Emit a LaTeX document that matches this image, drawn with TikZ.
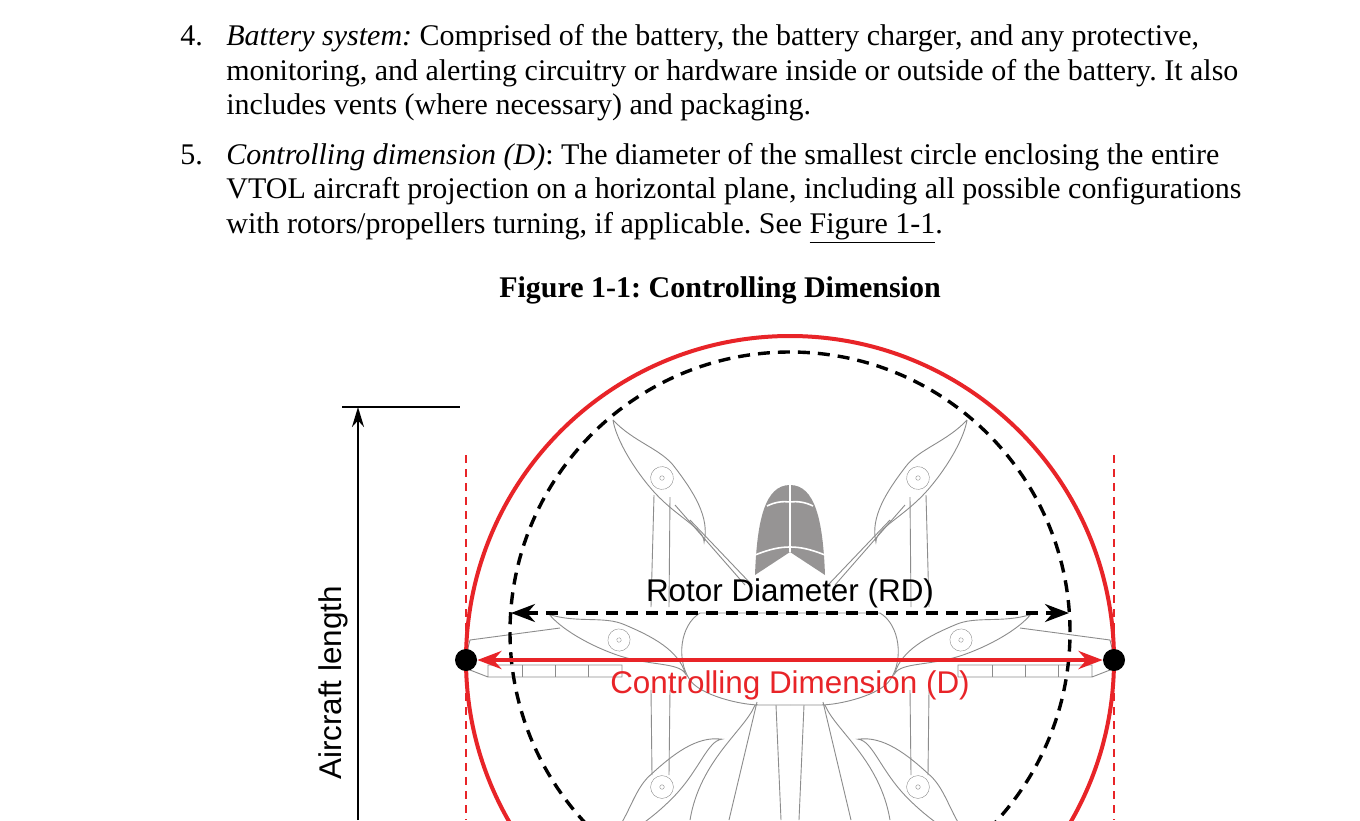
\documentclass[tikz,border=0pt]{standalone}
\usepackage{fontspec}
\setmainfont{Liberation Serif}
\setsansfont{Liberation Sans}
\usetikzlibrary{arrows.meta}
\definecolor{rd}{RGB}{232,36,40}
\definecolor{dg}{RGB}{150,148,148}
\definecolor{lg}{RGB}{140,140,140}
\newcommand\myblade[4]{% hub x, hub y, angle, half length (pt)
  \begin{scope}[shift={(#1,#2)},rotate=#3]
    \draw[drone] (-#4pt,0) .. controls (-0.6*#4pt,0.02*#4pt) and (-0.3*#4pt,0.24*#4pt) .. (0,0.22*#4pt)
      .. controls (0.4*#4pt,0.2*#4pt) and (0.8*#4pt,0.15*#4pt) .. (#4pt,-0.12*#4pt)
      .. controls (0.85*#4pt,0.0) and (0.5*#4pt,-0.2*#4pt) .. (0,-0.2*#4pt)
      .. controls (-0.4*#4pt,-0.2*#4pt) and (-0.8*#4pt,-0.12*#4pt) .. cycle;
    \draw[drone,line width=0.2pt] (0,0) circle[radius=0.15*#4pt];
    \draw[drone,line width=0.2pt] (0,0) circle[radius=0.03*#4pt];
  \end{scope}}
\newcommand\halfdrone{%
  \myblade{662}{478}{-49.8}{38}
  \myblade{619}{640}{-20.1}{37}
  \myblade{662}{787}{45.5}{38}
  \draw[drone] (654,495) -- (651,607) (670,497) -- (669,607);
  \draw[drone] (675,505) -- (745,585) (690,520) -- (752,585);
  \draw[drone] (651,690) -- (652,775) (670,690) -- (669,775);
  \draw[drone] (468,648) -- (470,640) -- (560,628) (470,670) -- (468,648);
  \draw[drone] (470,670) -- (488,677) -- (622,677) -- (622,665) -- (488,665) -- (488,677);
  \foreach \x in {522,555,588} \draw[drone,line width=0.2pt] (\x,665) -- (\x,677);
  \draw[drone] (790,613) -- (700,613) .. controls (680,625) and (676,660) .. (690,680)
     .. controls (700,695) and (740,705) .. (760,705) -- (790,705);
  \draw[drone] (757,702) -- (729,820) (755,705) .. controls (745,730) and (700,760) .. (690,820);
  \draw[drone] (776,705) -- (781,820);
  \fill[dg] (790,485) .. controls (765,485) and (757,520) .. (755,575) -- (790,552) -- cycle;
  \draw[white,line width=0.8pt] (790,485) -- (790,552);
  \draw[white,line width=0.8pt] (767,506) .. controls (775,502) and (783,501) .. (790,502);
  \draw[white,line width=0.8pt] (755,555) .. controls (770,549) and (780,547) .. (790,547);
}
\begin{document}
\frenchspacing
\begin{tikzpicture}[x=0.5pt,y=-0.5pt,
  drone/.style={draw=lg,line width=0.45pt},
  txt/.style={anchor=base west,inner sep=0pt,font=\fontsize{15}{17}\selectfont},
  lab/.style={inner sep=0pt,font=\sffamily\fontsize{15.7}{18}\selectfont},
  dot/.style={circle,fill=black,inner sep=0pt,minimum size=11pt}]
\useasboundingbox (0,0) rectangle (1360,820);
\fill[white] (0,0) rectangle (1360,820);
% text
\node[txt] (n4) at (180,45) {4.};
\node[txt] (t41) at (226,45) {\textit{Battery system:} Comprised of the battery, the battery charger, and any protective,};
\node[txt] (t42) at (226,80) {monitoring, and alerting circuitry or hardware inside or outside of the battery. It also};
\node[txt] (t43) at (226,114) {includes vents (where necessary) and packaging.};
\node[txt] (n5) at (180,164) {5.};
\node[txt] (t51) at (226,164) {\textit{Controlling dimension (D)}: The diameter of the smallest circle enclosing the entire};
\node[txt] (t52) at (226,198) {VTOL aircraft projection on a horizontal plane, including all possible configurations};
\node[txt] (t53) at (226,233) {with rotors/propellers turning, if applicable. See \underline{Figure 1-1}.};
\node[txt,anchor=base] (cap) at (720,297) {\textbf{Figure 1-1: Controlling Dimension}};
% drone
\halfdrone
\begin{scope}[xshift=790pt,xscale=-1]\halfdrone\end{scope}
% circles
\draw[rd,line width=2pt] (790,660) circle[radius=162pt];
\draw[black,line width=1.7pt,dash pattern=on 6pt off 4pt] (790,632) circle[radius=140pt];
\draw[rd,line width=0.6pt,dash pattern=on 4pt off 3pt] (466,455) -- (466,820) (1114,455) -- (1114,820);
% dimension arrows
\node[dot] (dl) at (466,660) {};
\node[dot] (dr) at (1114,660) {};
\draw[rd,line width=2pt,{Stealth[length=12pt,width=9pt]}-{Stealth[length=12pt,width=9pt]}] (dl.east) -- (dr.west);
\coordinate (rl) at (511,613);
\coordinate (rr) at (1069,613);
\draw[black,line width=1.7pt,dash pattern=on 6pt off 4pt,{Stealth[length=12pt,width=9pt]}-{Stealth[length=12pt,width=9pt]}] (rl) -- (rr);
\node[lab] (rdl) at (790,593) {Rotor Diameter (RD)};
\node[lab,text=rd] (cdl) at (790,685) {Controlling Dimension (D)};
% aircraft length
\coordinate (al0) at (358,820);
\coordinate (al1) at (358,407);
\coordinate (tl0) at (342,407);
\coordinate (tl1) at (460,407);
\draw[line width=1.1pt] (tl0) -- (tl1);
\draw[line width=1.1pt,-{Stealth[length=10pt,width=6pt]}] (al0) -- (al1);
\node[lab,rotate=90] (all) at (333,683) {Aircraft length};
\end{tikzpicture}
\end{document}
